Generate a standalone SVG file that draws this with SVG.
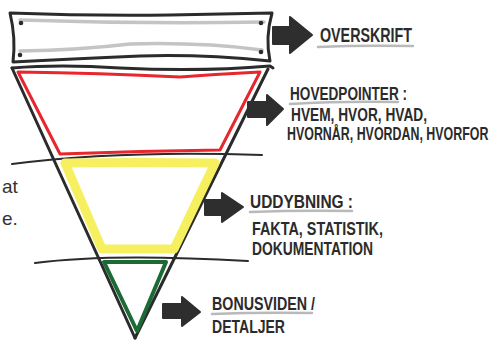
<svg xmlns="http://www.w3.org/2000/svg" width="496" height="340" viewBox="0 0 496 340">
<defs>
<style>
.ink{fill:none;stroke:#2b2b2b;stroke-width:3;stroke-linecap:round;stroke-linejoin:round}
.thin{fill:none;stroke:#2b2b2b;stroke-width:2;stroke-linecap:round}
.gray{fill:none;stroke:#c4c4c4;stroke-width:3.5;stroke-linecap:round}
.ul{fill:none;stroke:#b9b9b9;stroke-width:2.5;stroke-linecap:round}
.arrow{fill:#2e2e2e;stroke:#2e2e2e;stroke-width:2;stroke-linejoin:round}
.lbl{font-family:"Liberation Sans","DejaVu Sans",sans-serif;font-weight:bold;fill:#2b2b2b}
.side{font-family:"Liberation Sans","DejaVu Sans",sans-serif;fill:#333;font-size:19px}
</style>
</defs>
<rect width="496" height="340" fill="#ffffff"/>

<g id="side-text">
<text class="side" x="2" y="193">at</text>
<text class="side" x="2" y="225">e.</text>
</g>

<g id="dividers">
<path class="thin" d="M12,164 Q120,150 262,155"/>
<path class="thin" d="M35,263 Q110,253 248,261"/>
</g>

<g id="banner">
<path class="ink" d="M10,13 Q90,16 170,15 Q230,14 272,13 Q265,38 270,61 Q200,54 140,56 Q70,59 13,62 Q16,38 10,13 Z"/>
<path class="gray" d="M20,20 Q140,24 264,22"/>
<path class="gray" d="M20,51 Q80,50 130,44 Q200,42 262,50"/>
<circle cx="21" cy="23" r="2.3" fill="#2b2b2b"/>
<circle cx="20" cy="55" r="2.3" fill="#2b2b2b"/>
<circle cx="261" cy="23" r="2.3" fill="#2b2b2b"/>
<circle cx="261" cy="52" r="2.3" fill="#2b2b2b"/>
</g>

<g id="pyramid">
<path class="ink" d="M12,68 Q60,64 120,68 Q200,72 270,66 L273,68"/>
<path class="ink" d="M12,68 L135,338"/>
<path class="ink" d="M268,69 L135,338"/>
</g>

<g id="level-red">
<path fill="none" stroke="#e8262e" stroke-width="3" stroke-linejoin="round" d="M18,72 Q100,73 180,77 Q220,74 260,72 L220,150 Q140,151 60,154 Z"/>
</g>

<g id="level-yellow">
<path fill="none" stroke="#f6f060" stroke-width="9" stroke-linejoin="round" d="M65,163 Q140,162 215,163 L174,249 L102,249 Z"/>
</g>

<g id="level-green">
<path fill="none" stroke="#1c6b35" stroke-width="4" stroke-linejoin="round" d="M104,262 L166,262 L137,331 Z"/>
</g>

<g id="connectors">
<path class="arrow" d="M273,27 L290,27 L290,17 L312,35 L290,53 L290,44 L273,44 Z"/>
<path class="arrow" d="M248,102 L267,102 L267,95 L283,109 L267,125 L267,117 L248,117 Z"/>
<path class="arrow" d="M205,200 L222,200 L222,193 L243,207 L222,222 L222,215 L205,215 Z"/>
<path class="arrow" d="M163,304 L182,304 L182,297 L200,312 L182,326 L182,318 L163,318 Z"/>
</g>

<g id="label-overskrift">
<text class="lbl" x="320" y="42" font-size="20" textLength="92" lengthAdjust="spacingAndGlyphs">OVERSKRIFT</text>
<path class="ul" d="M318,47 Q360,45 413,46"/>
</g>

<g id="label-hovedpointer">
<text class="lbl" x="290" y="100" font-size="19" textLength="117" lengthAdjust="spacingAndGlyphs">HOVEDPOINTER :</text>
<path class="ul" d="M290,104 Q340,101 398,102"/>
<text class="lbl" x="291" y="121" font-size="18" textLength="136" lengthAdjust="spacingAndGlyphs">HVEM, HVOR, HVAD,</text>
<text class="lbl" transform="translate(287,140) scale(0.69,1)" x="0" y="0" font-size="18">HVORNÅR, HVORDAN, HVORFOR</text>
</g>

<g id="label-uddybning">
<text class="lbl" x="250" y="208" font-size="18" textLength="103" lengthAdjust="spacingAndGlyphs">UDDYBNING :</text>
<path class="ul" d="M250,212 Q300,210 352,211"/>
<text class="lbl" x="252" y="235" font-size="18" textLength="131" lengthAdjust="spacingAndGlyphs">FAKTA, STATISTIK,</text>
<text class="lbl" x="252" y="255" font-size="18" textLength="121" lengthAdjust="spacingAndGlyphs">DOKUMENTATION</text>
</g>

<g id="label-bonusviden">
<text class="lbl" x="212" y="310" font-size="18" textLength="103" lengthAdjust="spacingAndGlyphs">BONUSVIDEN /</text>
<path class="ul" d="M212,314 Q260,312 312,313"/>
<text class="lbl" x="212" y="333" font-size="18" textLength="73" lengthAdjust="spacingAndGlyphs">DETALJER</text>
</g>
</svg>
